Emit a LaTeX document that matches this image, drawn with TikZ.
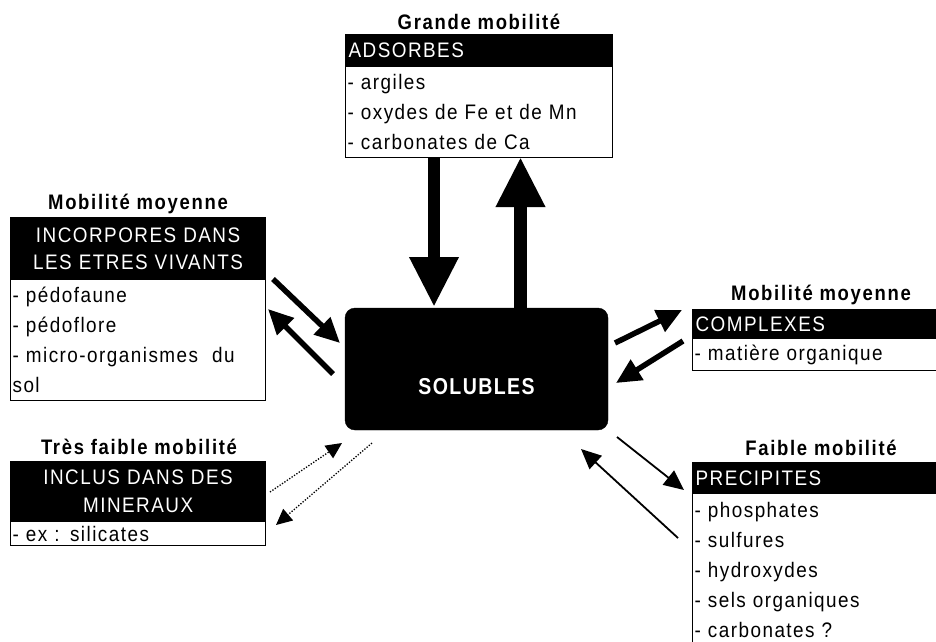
\documentclass[tikz,border=0pt]{standalone}
\usepackage{fontspec}
\setmainfont{Liberation Sans}
\newfontfamily\bodyfont[LetterSpace=7,FakeStretch=0.9]{Liberation Sans}
\newfontfamily\titlefont[LetterSpace=8,FakeStretch=0.88]{Liberation Sans}
\newfontfamily\solfont[LetterSpace=6,FakeStretch=0.85]{Liberation Sans}
\usetikzlibrary{arrows.meta}
\tikzset{
  ttl/.style={font=\titlefont\bfseries\fontsize{21}{24}\selectfont, inner sep=0pt},
  hdr/.style={draw=black, fill=black, text=white, line width=1.2pt,
    font=\bodyfont\fontsize{21}{27}\selectfont, anchor=north west,
    inner xsep=3pt, inner ysep=0pt},
  bodybox/.style={draw=black, fill=white, line width=1.2pt,
    font=\bodyfont\fontsize{21}{30}\selectfont, anchor=north west,
    inner xsep=2pt, inner ysep=0pt, align=left},
  bigarrow/.style={line width=12.5pt, -{Triangle[length=50pt,width=46pt]}},
  midarrow/.style={line width=5.5pt, -{Triangle[length=25pt,width=23pt]}},
  thinarrow/.style={line width=1.8pt, -{Triangle[length=20pt,width=18pt]}},
  dotarrow/.style={line width=1.3pt, dash pattern=on 1.3pt off 1.6pt, -{Triangle[length=16pt,width=15pt]}},
}
\begin{document}
\begin{tikzpicture}[x=1pt, y=-1pt]
\useasboundingbox (0,0) rectangle (936,641);
\clip (0,0) rectangle (936,641);

% central node
\node[draw=black, fill=black, rounded corners=10pt, minimum width=263pt, minimum height=122pt,
      text=white, font=\solfont\bfseries\fontsize{23}{26}\selectfont,
      text height=50pt, text depth=0pt, inner sep=0pt] (sol) at (476.5,369) {SOLUBLES};

% top box
\node[ttl] (t1) at (479,22) {Grande mobilité};
\node[hdr, text width=261pt, minimum height=32pt, align=left] (adsH) at (345,34) {ADSORBES};
\node[bodybox, text width=263pt, minimum height=91pt] (adsB) at (345,66)
  {- argiles\\- oxydes de Fe et de Mn\\- carbonates de Ca};

% left box 1
\node[ttl] (t2) at (138,204) {Mobilité moyenne};
\node[hdr, text width=249pt, minimum height=62pt, align=center] (incH) at (10,217)
  {INCORPORES DANS\\LES ETRES VIVANTS};
\node[bodybox, text width=251pt, minimum height=121pt] (incB) at (10,279)
  {- pédofaune\\- pédoflore\\- micro-organismes~ du\\sol};

% left box 2
\node[ttl] (t3) at (139,447) {Très faible mobilité};
\node[hdr, text width=249pt, minimum height=60pt, align=center, font=\bodyfont\fontsize{21}{28}\selectfont] (minH) at (10,461)
  {INCLUS DANS DES\\MINERAUX};
\node[bodybox, text width=251pt, minimum height=24pt] (minB) at (10,521)
  {- ex : silicates};

% right box 1
\node[ttl] (t4) at (821,295) {Mobilité moyenne};
\node[hdr, text width=250pt, minimum height=29pt, align=left] (comH) at (692,309) {COMPLEXES};
\node[bodybox, text width=252pt, minimum height=32pt] (comB) at (692,338) {- matière organique};

% right box 2
\node[ttl] (t5) at (821,448) {Faible mobilité};
\node[hdr, text width=250pt, minimum height=31pt, align=left] (preH) at (692,462) {PRECIPITES};
\node[bodybox, text width=252pt, minimum height=152pt] (preB) at (692,493)
  {- phosphates\\- sulfures\\- hydroxydes\\- sels organiques\\- carbonates ?};

% connector end points
\coordinate (a1s) at (434,157);   \coordinate (a1e) at (434,307);
\coordinate (a2s) at (520.5,308); \coordinate (a2e) at (520.5,157);
\coordinate (b1s) at (273,279);   \coordinate (b1e) at (340,343);
\coordinate (b2s) at (333,374);   \coordinate (b2e) at (268,309);
\coordinate (c1s) at (615,343);   \coordinate (c1e) at (682,310);
\coordinate (c2s) at (683,341);   \coordinate (c2e) at (616,383);
\coordinate (d1s) at (270,492);   \coordinate (d1e) at (342,443);
\coordinate (d2s) at (372,443);   \coordinate (d2e) at (276,525);
\coordinate (e1s) at (617,437);   \coordinate (e1e) at (684,490);
\coordinate (e2s) at (678,538);   \coordinate (e2e) at (581,449);

\draw[bigarrow] (a1s) -- (a1e);
\draw[bigarrow] (a2s) -- (a2e);
\draw[midarrow] (b1s) -- (b1e);
\draw[midarrow] (b2s) -- (b2e);
\draw[midarrow] (c1s) -- (c1e);
\draw[midarrow] (c2s) -- (c2e);
\draw[dotarrow] (d1s) -- (d1e);
\draw[dotarrow] (d2s) -- (d2e);
\draw[thinarrow] (e1s) -- (e1e);
\draw[thinarrow] (e2s) -- (e2e);
\end{tikzpicture}
\end{document}
